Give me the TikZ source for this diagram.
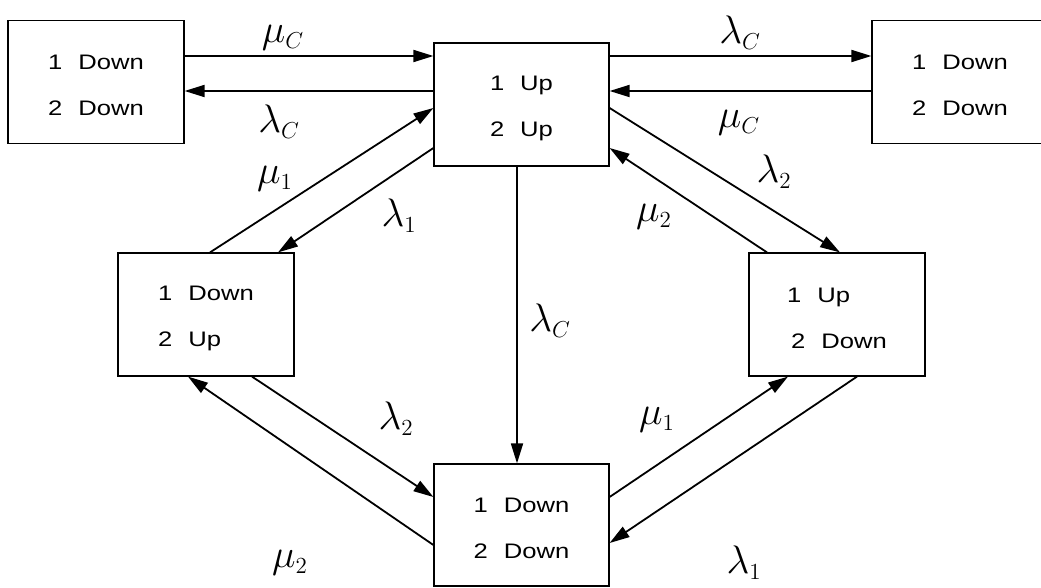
\documentclass[tikz,border=0pt]{standalone}
\usepackage[no-math]{fontspec}
\setmainfont{Liberation Sans}
\newfontfamily\boxfont[FakeStretch=1.22]{Liberation Sans}
\usetikzlibrary{arrows.meta}
\DeclareMathSizes{24.88}{24.88}{14.4}{10}
\newcommand{\gp}{\hspace{16pt}}
\newcommand{\tl}{\rule{0pt}{22pt}}
\newcommand{\lb}[1]{\scalebox{1.6}{\fontsize{24.88}{25}\selectfont$#1$}}
\begin{document}
\begin{tikzpicture}[x=1pt,y=-1pt,
  box/.style={draw, line width=1.2pt, minimum width=176pt, minimum height=123pt,
    inner sep=0pt, align=left, font=\boxfont\fontsize{21}{46}\selectfont},
  conn/.style={-{Triangle[length=20pt,width=12pt]}, line width=1.8pt},
  lbl/.style={inner sep=0pt}]
\useasboundingbox (0,0) rectangle (1041,588);
\clip (0,0) rectangle (1041,588);
\fill[white] (0,0) rectangle (1041,588);

\node[box] (tl)  at (96,82)      {\tl 1\gp Down\\2\gp Down};
\node[box, minimum width=175pt] (top) at (521.5,104.5) {\tl 1\gp Up\\2\gp Up};
\node[box] (tr)  at (960,82)     {\tl 1\gp Down\\2\gp Down};
\node[box] (lm)  at (206,314.5)  {\tl 1\gp Down\\2\gp Up};
\node[box] (rm)  at (837,314.5)  {\tl 1\gp Up\\\hspace*{4pt}2\gp Down};
\node[box, minimum width=175pt, minimum height=122pt] (bot) at (521.5,525) {\tl 1\gp Down\\2\gp Down};

\draw[conn] (tl.east |- 0,56) -- (top.west |- 0,56) node[lbl] at (283,38) {\lb{\mu_C}};
\draw[conn] (top.west |- 0,91) -- (tl.east |- 0,91) node[lbl] at (279,122) {\lb{\lambda_C}};
\draw[conn] (top.east |- 0,56) -- (tr.west |- 0,56) node[lbl] at (740,33) {\lb{\lambda_C}};
\draw[conn] (tr.west |- 0,91) -- (top.east |- 0,91) node[lbl] at (739,123) {\lb{\mu_C}};

\draw[conn] (lm.north -| 210,0) -- (top.west |- 0,108) node[lbl] at (275,179) {\lb{\mu_1}};
\draw[conn] (top.west |- 0,148) -- (lm.north -| 278,0) node[lbl] at (399,216) {\lb{\lambda_1}};
\draw[conn] (top.east |- 0,108) -- (rm.north -| 840,0) node[lbl] at (774,172) {\lb{\lambda_2}};
\draw[conn] (rm.north -| 767,0) -- (top.east |- 0,148) node[lbl] at (654,217) {\lb{\mu_2}};

\draw[conn] (top.south -| 517,0) -- (bot.north -| 517,0) node[lbl] at (550,321) {\lb{\lambda_C}};

\draw[conn] (lm.south -| 252,0) -- (bot.west |- 0,497) node[lbl] at (396,419) {\lb{\lambda_2}};
\draw[conn] (bot.west |- 0,545) -- (lm.south -| 188,0) node[lbl] at (290,563) {\lb{\mu_2}};
\draw[conn] (bot.east |- 0,497) -- (rm.south -| 788,0) node[lbl] at (657,420) {\lb{\mu_1}};
\draw[conn] (rm.south -| 857,0) -- (bot.east |- 0,543) node[lbl] at (744,563) {\lb{\lambda_1}};
\end{tikzpicture}
\end{document}
